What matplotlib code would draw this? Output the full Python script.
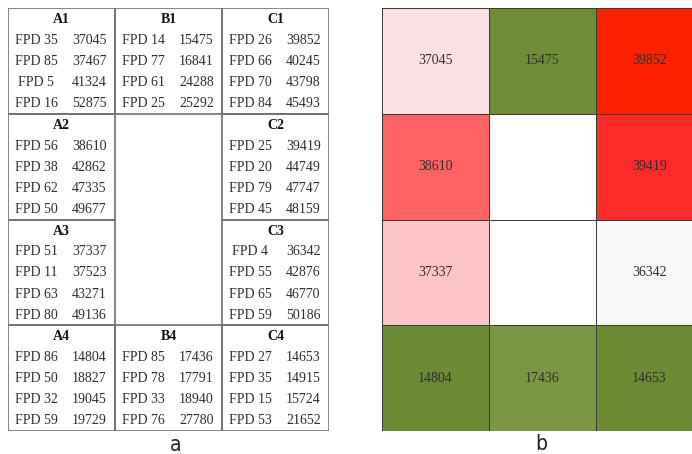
import numpy as np
import matplotlib.pyplot as plt
from matplotlib.colors import LinearSegmentedColormap, TwoSlopeNorm
from matplotlib.patches import Rectangle

# blocks of the layout (column letter, row number)
block_names = ['A1', 'B1', 'C1', 'A2', 'C2', 'A3', 'C3', 'A4', 'B4', 'C4']
block_labels = [
    ['FPD 35', 'FPD 85', 'FPD 5', 'FPD 16'],
    ['FPD 14', 'FPD 77', 'FPD 61', 'FPD 25'],
    ['FPD 26', 'FPD 66', 'FPD 70', 'FPD 84'],
    ['FPD 56', 'FPD 38', 'FPD 62', 'FPD 50'],
    ['FPD 25', 'FPD 20', 'FPD 79', 'FPD 45'],
    ['FPD 51', 'FPD 11', 'FPD 63', 'FPD 80'],
    ['FPD 4', 'FPD 55', 'FPD 65', 'FPD 59'],
    ['FPD 86', 'FPD 50', 'FPD 32', 'FPD 59'],
    ['FPD 85', 'FPD 78', 'FPD 33', 'FPD 76'],
    ['FPD 27', 'FPD 35', 'FPD 15', 'FPD 53'],
]
block_values = [
    [37045, 37467, 41324, 52875],
    [15475, 16841, 24288, 25292],
    [39852, 40245, 43798, 45493],
    [38610, 42862, 47335, 49677],
    [39419, 44749, 47747, 48159],
    [37337, 37523, 43271, 49136],
    [36342, 42876, 46770, 50186],
    [14804, 18827, 19045, 19729],
    [17436, 17791, 18940, 27780],
    [14653, 14915, 15724, 21652],
]
col_letters = ['A', 'B', 'C']

W, H = 692, 454
fig = plt.figure(figsize=(W / 100, H / 100), dpi=100)
serif = ['Liberation Serif', 'DejaVu Serif']
txt = '#2e2e2e'

# ---- panel a: the table ----
ax = fig.add_axes([8 / W, 1 - 431 / H, 321 / W, 423 / H])
ax.set_xlim(0, 3)
ax.set_ylim(4, 0)
ax.axis('off')
for name, labels, vals in zip(block_names, block_labels, block_values):
    c = col_letters.index(name[0])
    r = int(name[1]) - 1
    ax.add_patch(Rectangle((c, r), 1, 1, fill=False, ec='#707070', lw=1.2))
    ax.text(c + 0.5, r + 0.11, name, ha='center', va='center',
            fontsize=10, fontweight='bold', family=serif, color='#111111')
    for i, (lab, v) in enumerate(zip(labels, vals)):
        y = r + 0.305 + i * 0.2
        ax.text(c + 0.265, y, lab, ha='center', va='center', fontsize=10,
                family=serif, color=txt)
        ax.text(c + 0.76, y, str(v), ha='center', va='center', fontsize=10,
                family=serif, color=txt)
fig.text(176 / W, 1 - 445 / H, 'a', ha='center', va='center', fontsize=15,
         family='DejaVu Sans', fontstretch='condensed', color='#222222')

# ---- panel b: heatmap of the first value of each block ----
heat = np.full((4, 3), np.nan)
for name, vals in zip(block_names, block_values):
    heat[int(name[1]) - 1, col_letters.index(name[0])] = vals[0]

cmap = LinearSegmentedColormap.from_list('gwr', [
    (0.0, '#6c8a33'), (0.12, '#86a052'), (0.5, '#f8f8fa'),
    (0.6, '#fde0e3'), (0.64, '#fdc6ca'), (0.82, '#ff6464'),
    (0.94, '#ff2a2a'), (1.0, '#ff2200')])
norm = TwoSlopeNorm(vmin=14653, vcenter=36342, vmax=39852)

axb = fig.add_axes([382 / W, 1 - 431 / H, 321 / W, 423 / H])
axb.pcolormesh(np.ma.masked_invalid(heat), cmap=cmap, norm=norm,
               edgecolors='#3a3a3a', linewidth=0.6)
axb.set_xlim(0, 3)
axb.set_ylim(4, 0)
axb.axis('off')
for r in range(4):
    for c in range(3):
        if not np.isnan(heat[r, c]):
            axb.text(c + 0.5, r + 0.5, str(int(heat[r, c])), ha='center',
                     va='center', fontsize=10, family=serif, color=txt)
fig.text(541 / W, 1 - 444 / H, 'b', ha='center', va='center', fontsize=15,
         family='DejaVu Sans', fontstretch='condensed', color='#222222')

fig.savefig('out.png', dpi=100)
